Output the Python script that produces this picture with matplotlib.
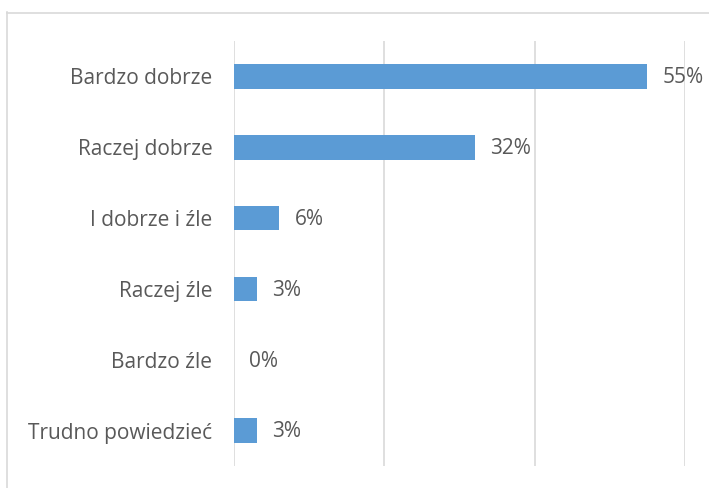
import matplotlib.pyplot as plt
from matplotlib.lines import Line2D

categories = ["Bardzo dobrze", "Raczej dobrze", "I dobrze i źle", "Raczej źle", "Bardzo źle", "Trudno powiedzieć"]
values = [0.55, 0.32, 0.06, 0.03, 0.00, 0.03]
labels = ["55%", "32%", "6%", "3%", "0%", "3%"]

plt.rcParams['font.family'] = ['Open Sans', 'DejaVu Sans']

fig = plt.figure(figsize=(7.09, 4.88), dpi=100)
ax = fig.add_axes([234/709, 1 - 466/488, (685 - 234)/709, (466 - 41)/488])

y = list(range(len(categories)))
ax.barh(y, values, height=0.35, color="#5B9BD5", zorder=3)
ax.set_ylim(len(categories) - 0.5, -0.5)
ax.set_xlim(0, 0.6)
ax.set_xticks([0, 0.2, 0.4, 0.6])
ax.xaxis.grid(True, color="#D9D9D9", lw=1.2, zorder=0)
ax.tick_params(axis='x', bottom=False, labelbottom=False)
ax.tick_params(axis='y', left=False, labelsize=15, labelcolor="#595959", pad=12)
ax.set_yticks(y)
ax.set_yticklabels(categories)
for s in ax.spines.values():
    s.set_visible(False)

for yi, v, lab in zip(y, values, labels):
    ax.annotate(lab, (v, yi), xytext=(11, -1), textcoords="offset points",
                va="center", ha="left", fontsize=15, color="#595959")

# chart frame
fig.add_artist(Line2D([7.5/709, 7.5/709], [0, 1 - 12/488], color="#D9D9D9", lw=1.2))
fig.add_artist(Line2D([7/709, 1], [1 - 12.5/488, 1 - 12.5/488], color="#D9D9D9", lw=1.2))

fig.savefig("out.png", dpi=100)
